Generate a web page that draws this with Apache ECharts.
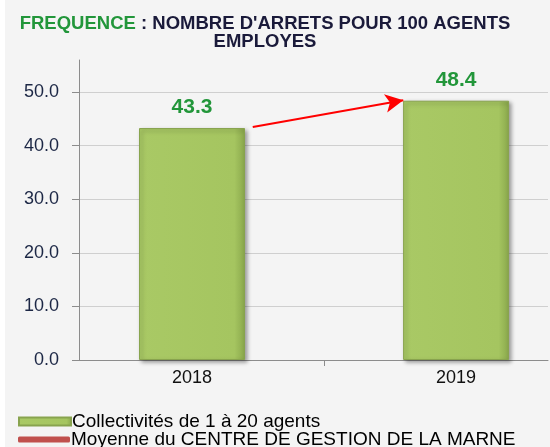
<!DOCTYPE html>
<html>
<head>
<meta charset="utf-8">
<script src="https://cdn.jsdelivr.net/npm/echarts@6/dist/echarts.min.js"></script>
<style>
html,body{margin:0;padding:0;background:#f4f4f4;}
#c{width:550px;height:447px;}
</style>
</head>
<body>
<div id="c"></div>
<script>
var categories = ['2018', '2019'];
var barValues = [43.3, 48.4];
var avgValues = [null, null];
var seriesNames = ['Collectivités de 1 à 20 agents', 'Moyenne du CENTRE DE GESTION DE LA MARNE'];
var yTicks = [0, 10, 20, 30, 40, 50];

var chart = echarts.init(document.getElementById('c'), null, {renderer: 'canvas'});
var barData = barValues.map(function (v, i) { return [i, v]; });
var avgData = avgValues.map(function (v, i) { return [i, v]; });

function legendAt(top, name, icon, h) {
  return {
    orient: 'vertical', left: 18, top: top, padding: 0,
    itemWidth: 52, itemHeight: h, icon: icon,
    textStyle: {fontSize: 19, color: '#000000', fontFamily: 'Liberation Sans', padding: [0,0,0,-4]},
    data: [name]
  };
}

var option = {
  backgroundColor: '#f4f4f4',
  animation: false,
  textStyle: {fontFamily: 'Liberation Sans, Arial, sans-serif'},
  title: {
    left: 265, top: 15, textAlign: 'center', padding: 0,
    text: "{g|FREQUENCE}{d| : NOMBRE D'ARRETS POUR 100 AGENTS}\n{d|EMPLOYES}",
    textStyle: {
      fontSize: 18.5, fontWeight: 'bold', lineHeight: 18,
      rich: {
        g: {color: '#22963a', fontSize: 18.5, fontWeight: 'bold', fontFamily: 'Liberation Sans', lineHeight: 18},
        d: {color: '#1a1a3a', fontSize: 18.5, fontWeight: 'bold', fontFamily: 'Liberation Sans', lineHeight: 18}
      }
    }
  },
  graphic: [{type: 'rect', shape: {x: 0, y: 0, width: 5, height: 447}, style: {fill: '#ffffff'}, silent: true}],
  legend: [
    legendAt(412, seriesNames[0], 'rect', 8),
    legendAt(430, seriesNames[1], 'roundRect', 6)
  ],
  grid: {left: 79, right: 2, top: 60, bottom: 87},
  xAxis: {
    type: 'value', min: -0.428, max: 1.348,
    axisLine: {show: true, onZero: false, lineStyle: {color: '#8c8c8c', width: 1}},
    splitLine: {show: false},
    axisTick: {show: true, customValues: [0.5], length: 6, lineStyle: {color: '#8c8c8c'}},
    axisLabel: {
      customValues: categories.map(function (c, i) { return i; }),
      formatter: function (v) { return categories[Math.round(v)]; },
      fontSize: 18, color: '#111111', margin: 9, fontFamily: 'Liberation Sans'
    }
  },
  yAxis: {
    type: 'value', min: 0, max: 56, interval: 10,
    axisLine: {show: true, onZero: false, lineStyle: {color: '#8c8c8c', width: 1}},
    axisTick: {show: true, length: 7, lineStyle: {color: '#8c8c8c'}},
    splitLine: {show: true, showMaxLine: false, lineStyle: {color: '#cfcfcf', width: 1}},
    axisLabel: {
      showMaxLabel: false, fontSize: 18, color: '#1c2745', margin: 20, fontFamily: 'Liberation Sans',
      formatter: function (v) { return yTicks.indexOf(v) >= 0 ? v.toFixed(1) : ''; }
    }
  },
  series: [
    {
      name: seriesNames[0], type: 'bar', data: barData, barWidth: 106,
      itemStyle: {
        color: {type: 'linear', x: 0, y: 0, x2: 1, y2: 0, colorStops: [
          {offset: 0, color: '#a9c965'}, {offset: 0.9, color: '#a5c560'}, {offset: 1, color: '#8aa84c'}]},
        borderColor: '#88a34e', borderWidth: 1,
        shadowBlur: 4, shadowColor: 'rgba(0,0,0,0.35)', shadowOffsetX: 2, shadowOffsetY: 2
      },
      label: {
        show: true, position: 'top', distance: 10,
        formatter: function (p) { return p.value[1].toFixed(1); },
        color: '#22963a', fontSize: 21, fontWeight: 'bold', fontFamily: 'Liberation Sans'
      },
      markLine: {
        silent: true, symbol: ['none', 'arrow'], symbolSize: [14, 18],
        lineStyle: {color: '#ff0000', width: 2, type: 'solid'},
        label: {show: false},
        data: [[{coord: [0.23, barValues[0] + 0.2]}, {coord: [0.8, barValues[1] + 0.1]}]]
      }
    },
    {
      name: seriesNames[1], type: 'line', data: avgData, showSymbol: false,
      itemStyle: {color: '#c0504d'}, lineStyle: {color: '#c0504d', width: 5}
    }
  ]
};
chart.setOption(option);
</script>
</body>
</html>
